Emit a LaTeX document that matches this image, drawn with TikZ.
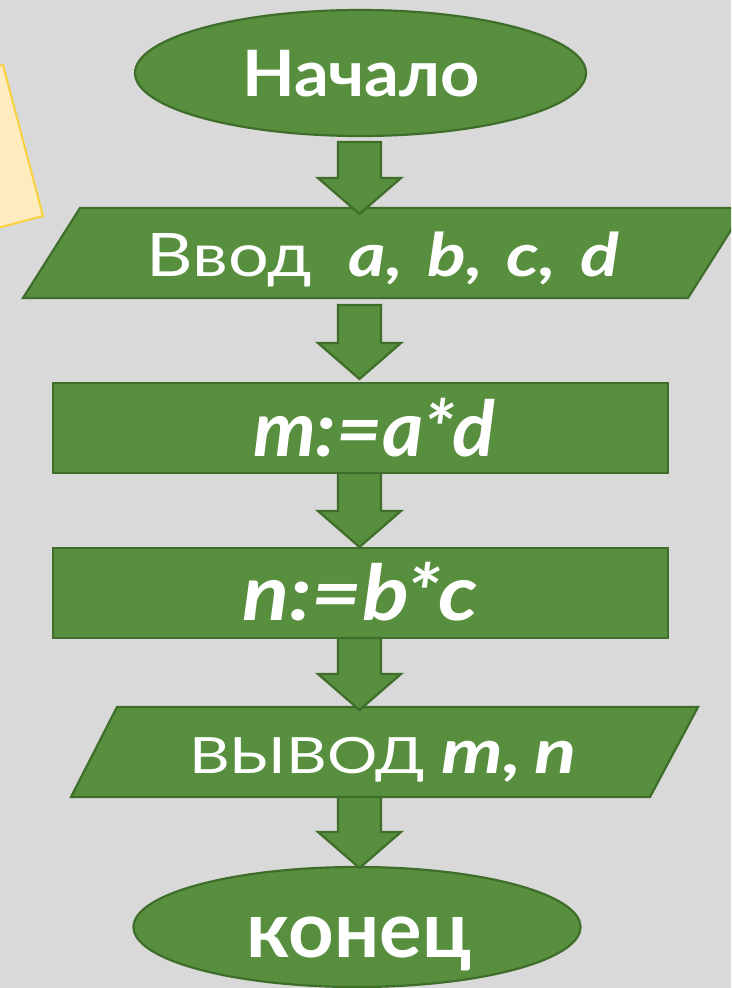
\documentclass[tikz,border=0pt]{standalone}
\usepackage{fontspec}
\setmainfont{Lato}
\usetikzlibrary{shapes.geometric,calc}
\definecolor{bg}{HTML}{D9D9D9}
\definecolor{gfill}{HTML}{578F3F}
\definecolor{gline}{HTML}{3F6D2A}
\definecolor{note}{HTML}{FFEBC0}
\definecolor{noteline}{HTML}{F7D23E}
\tikzset{
  blk/.style={fill=gfill,draw=gline,line width=2.2pt,line join=miter},
  shp/.style={fill=gfill,draw=gline,line width=2.2pt},
  txt/.style={text=white,inner sep=0pt,anchor=base},
}
\newcommand\fatarrow[2]{%
  \draw[blk] let \p1=(#1), \p2=(#2) in
    (\x1-21.5pt,\y1) -- (\x1+21.5pt,\y1) -- (\x1+21.5pt,\y2+36pt) --
    (\x1+41.5pt,\y2+36pt) -- (\x2,\y2) -- (\x1-41.5pt,\y2+36pt) --
    (\x1-21.5pt,\y2+36pt) -- cycle;}
\begin{document}
\begin{tikzpicture}[x=1pt,y=-1pt]
\useasboundingbox (0,0) rectangle (731,988);
\fill[bg] (0,0) rectangle (731,988);
\begin{scope}
\clip (0,0) rectangle (731,988);
% sticky note
\draw[fill=note,draw=noteline,line width=2pt] (-40,74) -- (3,65) -- (43,216) -- (-40,238) -- cycle;
% start
\node[shp,ellipse,minimum width=451pt,minimum height=126pt,inner sep=0pt] (start) at (360.5,73) {};
\node[txt] (starttxt) at (361,96) {\scalebox{1.07}[1]{\fontsize{64}{64}\selectfont\bfseries Начало}};
% input
\draw[shp] (23,298) -- (80,208) -- (745,208) -- (688,298) -- cycle;
\coordinate (inp) at (384,253);
\node[txt] (inptxt) at (383,276) {\scalebox{1.2}[1]{\fontsize{60}{60}\selectfont Ввод\ \ \textbf{\itshape a,\,\,b,\,\,c,\,\,d}}};
% process 1
\node[shp,rectangle,minimum width=615pt,minimum height=90pt,inner sep=0pt] (p1) at (360.5,428) {};
\node[txt] (p1txt) at (374,456) {\scalebox{1.03}[1]{\fontsize{77}{77}\selectfont\bfseries\itshape m:=a*d}};
% process 2
\node[shp,rectangle,minimum width=615pt,minimum height=90pt,inner sep=0pt] (p2) at (360.5,593) {};
\node[txt] (p2txt) at (360,620) {\scalebox{1.13}[1]{\fontsize{77}{77}\selectfont\bfseries\itshape n:=b*c}};
% output
\draw[shp] (71,797) -- (117,707) -- (698,707) -- (650,797) -- cycle;
\coordinate (out) at (384,752);
\node[txt] (outtxt) at (383,773) {\scalebox{1.26}[1]{\fontsize{50}{50}\selectfont ВЫВОД \fontsize{62}{62}\selectfont\textbf{\itshape m,\,n}}};
% end
\node[shp,ellipse,minimum width=447pt,minimum height=120pt,inner sep=0pt] (stop) at (357,927) {};
\node[txt] (stoptxt) at (359,957) {\scalebox{1.02}[1]{\fontsize{78}{78}\selectfont\bfseries конец}};
% arrows
\coordinate (a1s) at (359.5,142); \coordinate (a1e) at (359.5,214);
\coordinate (a2s) at (359.5,305); \coordinate (a2e) at (359.5,379);
\coordinate (a3s) at (359.5,473); \coordinate (a3e) at (359.5,547);
\coordinate (a4s) at (359.5,638); \coordinate (a4e) at (359.5,710);
\coordinate (a5s) at (359.5,797); \coordinate (a5e) at (359.5,868);
\fatarrow{a1s}{a1e}
\fatarrow{a2s}{a2e}
\fatarrow{a3s}{a3e}
\fatarrow{a4s}{a4e}
\fatarrow{a5s}{a5e}
\end{scope}
\end{tikzpicture}
\end{document}
